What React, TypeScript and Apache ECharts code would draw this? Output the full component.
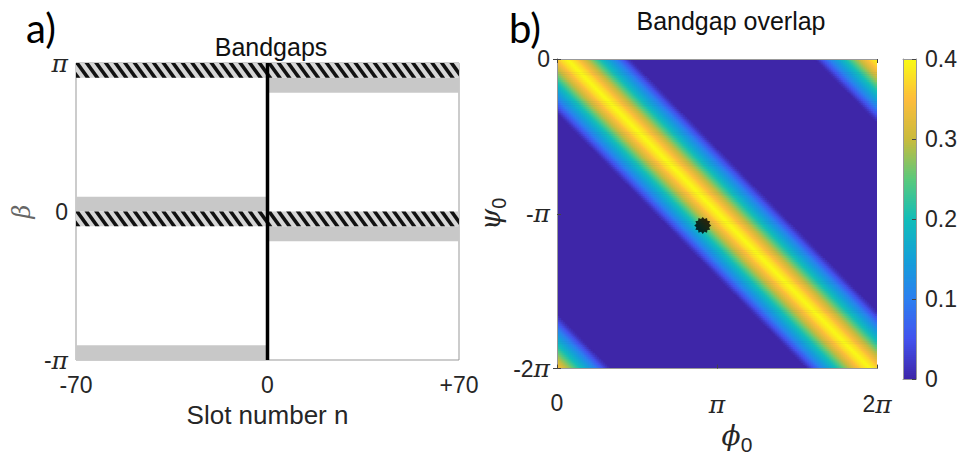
import React, { useEffect, useRef } from 'react';
import * as echarts from 'echarts';

// ---------- Panel a: bandgaps ----------
const slotRange = [-70, 70];
const betaRange = [-1, 1]; // in units of π
// [nStart, nEnd, βLow, βHigh] (β in units of π)
const grayBands = [
  [-70, 0, 0, 0.1],
  [-70, 0, -1, -0.9],
  [0, 70, 0.8, 0.9],
  [0, 70, -0.2, -0.1],
];
const hatchBands = [
  [-70, 70, 0.9, 1.0],
  [-70, 70, -0.1, 0],
];
const slotDivider = [
  [0, -1],
  [0, 1],
];

// ---------- Panel b: bandgap overlap ----------
const phiRange = [0, 2]; // units of π
const psiRange = [-2, 0]; // units of π
// overlap profile across the ridge: offset (fraction of the φ span) -> value
const ridgeOffset = [0, 0.025, 0.05, 0.075, 0.1, 0.125, 0.15, 0.175, 0.197];
const ridgeValue = [0.4, 0.37, 0.32, 0.27, 0.21, 0.16, 0.11, 0.05, 0.0];
const ridgeTop = 0.031; // ridge centre (fraction of φ span) at ψ = 0
const ridgeBottom = 0.978; // ridge centre at ψ = -2π
const ridgeShiftRight = 0.972; // top-right copy of the ridge
const ridgeShiftLeft = 1.009; // bottom-left copy of the ridge
const markerPoint = [[0.911, -1.075]];
const colorRange = [0, 0.4];

const parula = [
  '#3e26a8',
  '#4352ee',
  '#2c7ff0',
  '#14a0d8',
  '#12bdb9',
  '#5ac97c',
  '#c9bb3d',
  '#fdbc3c',
  '#f9fb15',
];

const N = 160;
const SANS = 'Liberation Sans, Arial, Helvetica, sans-serif';
const SERIF = 'DejaVu Serif, Liberation Serif, serif';
const TXT = '#262626';

function profile(d: number) {
  for (let k = 0; k < ridgeOffset.length - 1; k++) {
    if (d <= ridgeOffset[k + 1]) {
      const t = (d - ridgeOffset[k]) / (ridgeOffset[k + 1] - ridgeOffset[k]);
      return ridgeValue[k] + t * (ridgeValue[k + 1] - ridgeValue[k]);
    }
  }
  return 0;
}

const cellPhi = (phiRange[1] - phiRange[0]) / N;
const cellPsi = (psiRange[1] - psiRange[0]) / N;
const cellBar = (colorRange[1] - colorRange[0]) / N;

function buildHeat() {
  const out: number[][] = [];
  for (let i = 0; i < N; i++) {
    for (let j = 0; j < N; j++) {
      const u = (i + 0.5) / N; // fraction across φ
      const v = (j + 0.5) / N; // fraction down from ψ = 0
      const c = ridgeTop + (ridgeBottom - ridgeTop) * v;
      const d = Math.min(Math.abs(u - c), Math.abs(u - c - ridgeShiftRight), Math.abs(u - c + ridgeShiftLeft));
      const val = profile(d);
      if (val > 0) out.push([phiRange[0] + u * (phiRange[1] - phiRange[0]), psiRange[1] - v * (psiRange[1] - psiRange[0]), val]);
    }
  }
  return out;
}

function buildColorbar() {
  const out: number[][] = [];
  for (let j = 0; j < N; j++) {
    const val = colorRange[0] + (j + 0.5) * cellBar;
    out.push([0.5, val, val]);
  }
  return out;
}

function starPath(n: number, rIn: number) {
  let d = '';
  for (let k = 0; k < 2 * n; k++) {
    const r = k % 2 ? rIn : 1;
    const a = (k * Math.PI) / n - Math.PI / 2;
    d += (k ? 'L' : 'M') + (50 + 50 * r * Math.cos(a)).toFixed(2) + ' ' + (50 + 50 * r * Math.sin(a)).toFixed(2) + ' ';
  }
  return 'path://' + d + 'Z';
}

function clipHalf(pts: number[][], x0: number, keepGreater: boolean) {
  const out: number[][] = [];
  for (let i = 0; i < pts.length; i++) {
    const a = pts[i];
    const b = pts[(i + 1) % pts.length];
    const ina = keepGreater ? a[0] >= x0 : a[0] <= x0;
    const inb = keepGreater ? b[0] >= x0 : b[0] <= x0;
    if (ina) out.push(a);
    if (ina !== inb) {
      const t = (x0 - a[0]) / (b[0] - a[0]);
      out.push([x0, a[1] + t * (b[1] - a[1])]);
    }
  }
  return out;
}

const piRich = {
  n: { fontFamily: SANS, fontSize: 23, color: TXT },
  p: { fontFamily: SERIF, fontStyle: 'italic', fontSize: 25, color: TXT },
};

export default function App() {
  const ref = useRef<HTMLDivElement>(null);
  useEffect(() => {
    document.body.style.margin = '0';
    if (!ref.current) return;
    const chart = echarts.init(ref.current, undefined, { renderer: 'svg' });
    const cats = Array.from({ length: N }, (_, i) => String(i));

    const option: any = {
      animation: false,
      backgroundColor: '#fff',
      graphic: [
        { type: 'text', x: 41, y: 28, style: { text: 'a)', fontSize: 40, fontFamily: 'Lato, Noto Sans, sans-serif', fill: '#000', align: 'center', verticalAlign: 'middle' } },
        { type: 'text', x: 525, y: 28, style: { text: 'b)', fontSize: 40, fontFamily: 'Lato, Noto Sans, sans-serif', fill: '#000', align: 'center', verticalAlign: 'middle' } },
        { type: 'text', x: 271, y: 47, style: { text: 'Bandgaps', fontSize: 25, fontFamily: SANS, fill: '#111', align: 'center', verticalAlign: 'middle' } },
        { type: 'text', x: 731, y: 21, style: { text: 'Bandgap overlap', fontSize: 25, fontFamily: SANS, fill: '#111', align: 'center', verticalAlign: 'middle' } },
      ],
      grid: [
        { left: 76, top: 63, width: 383, height: 297, show: true, borderColor: '#999', borderWidth: 1, backgroundColor: 'transparent' },
        { left: 557, top: 59, width: 320, height: 320, show: true, borderWidth: 0, backgroundColor: parula[0] },
        { left: 903, top: 59, width: 15, height: 320 },
      ],
      xAxis: [
        {
          gridIndex: 0, type: 'value', min: slotRange[0], max: slotRange[1], interval: 70,
          axisLine: { show: false }, axisTick: { show: false }, splitLine: { show: false },
          axisLabel: { margin: 13, fontSize: 23, fontFamily: SANS, color: TXT, formatter: (v: number) => (v > 0 ? '+' + v : String(v)) },
          name: 'Slot number n', nameLocation: 'middle', nameGap: 42,
          nameTextStyle: { fontSize: 26, fontFamily: SANS, color: TXT },
        },
        {
          gridIndex: 1, type: 'category', data: cats, position: 'top', z: 10,
          axisLine: { show: true, lineStyle: { color: '#999' } },
          axisTick: { show: true, inside: true, length: 4, interval: (i: number) => i === N / 2, lineStyle: { color: '#444' } },
          axisLabel: { show: false }, splitLine: { show: false },
        },
        {
          gridIndex: 1, type: 'value', min: phiRange[0], max: phiRange[1], interval: 1, position: 'bottom', z: 10,
          axisLine: { show: true, lineStyle: { color: '#999' } },
          axisTick: { show: true, inside: true, length: 4, lineStyle: { color: '#444' } },
          splitLine: { show: false },
          axisLabel: {
            margin: 23, fontSize: 23, fontFamily: SANS, color: TXT, rich: piRich,
            formatter: (v: number) => (v === 0 ? '{n|0}' : v === 1 ? '{p|π}' : '{n|2}{p|π}'),
          },
          name: '{p|ϕ}{s|0}', nameLocation: 'middle', nameGap: 39,
          nameTextStyle: {
            rich: {
              p: { fontFamily: SERIF, fontStyle: 'italic', fontSize: 28, color: TXT, padding: [0, 0, 0, 40] },
              s: { fontFamily: SANS, fontSize: 21, color: TXT, padding: [18, 0, 0, 0] },
            },
          },
        },
        {
          gridIndex: 2, type: 'category', data: ['c'], position: 'bottom', z: 10,
          axisLine: { show: true, lineStyle: { color: '#999' } }, axisTick: { show: false }, axisLabel: { show: false }, splitLine: { show: false },
        },
        {
          gridIndex: 2, type: 'value', min: 0, max: 1, position: 'top', z: 10,
          axisLine: { show: true, lineStyle: { color: '#999' } }, axisTick: { show: false }, axisLabel: { show: false }, splitLine: { show: false },
        },
      ],
      yAxis: [
        {
          gridIndex: 0, type: 'value', min: betaRange[0], max: betaRange[1], interval: 1,
          axisLine: { show: false }, axisTick: { show: false }, splitLine: { show: false },
          axisLabel: {
            margin: 8, fontSize: 23, fontFamily: SANS, color: TXT, rich: piRich,
            formatter: (v: number) => (v === 1 ? '{p|π}' : v === -1 ? '{n|-}{p|π}' : '{n|0}'),
          },
          name: 'β', nameLocation: 'middle', nameGap: 42, nameRotate: 90,
          nameTextStyle: { fontFamily: SERIF, fontStyle: 'italic', fontSize: 24, color: '#666' },
        },
        {
          gridIndex: 1, type: 'category', data: cats, position: 'right', z: 10,
          axisLine: { show: true, lineStyle: { color: '#999' } },
          axisTick: { show: true, inside: true, length: 4, interval: (i: number) => i === N / 2, lineStyle: { color: '#444' } },
          axisLabel: { show: false }, splitLine: { show: false },
        },
        {
          gridIndex: 1, type: 'value', min: psiRange[0], max: psiRange[1], interval: 1, position: 'left', z: 10,
          axisLine: { show: true, lineStyle: { color: '#999' } },
          axisTick: { show: true, inside: true, length: 4, lineStyle: { color: '#444' } },
          splitLine: { show: false },
          axisLabel: {
            margin: 7, fontSize: 23, fontFamily: SANS, color: TXT, rich: piRich,
            formatter: (v: number) => (v === 0 ? '{n|0}' : v === -1 ? '{n|-}{p|π}' : '{n|-2}{p|π}'),
          },
          name: '{p|ψ}{s|0}', nameLocation: 'middle', nameGap: 46, nameRotate: 90,
          nameTextStyle: {
            rich: {
              p: { fontFamily: SERIF, fontStyle: 'italic', fontSize: 27, color: TXT },
              s: { fontFamily: SANS, fontSize: 20, color: TXT, padding: [18, 0, 0, 0] },
            },
          },
        },
        {
          gridIndex: 2, type: 'category', data: cats, position: 'left', z: 10,
          axisLine: { show: true, lineStyle: { color: '#999' } }, axisTick: { show: false }, axisLabel: { show: false }, splitLine: { show: false },
        },
        {
          gridIndex: 2, type: 'value', min: colorRange[0], max: colorRange[1], interval: 0.1, position: 'right', z: 10,
          axisLine: { show: true, lineStyle: { color: '#999' } },
          axisTick: { show: true, inside: true, length: 4, lineStyle: { color: '#444' } },
          splitLine: { show: false },
          axisLabel: { margin: 9, fontSize: 23, fontFamily: SANS, color: TXT, formatter: (v: number) => (v === 0 ? '0' : v.toFixed(1)) },
        },
      ],
      visualMap: {
        type: 'continuous', show: false, min: colorRange[0], max: colorRange[1], dimension: 2, seriesIndex: [3, 4],
        inRange: { color: parula },
      },
      series: [
        {
          type: 'custom', xAxisIndex: 0, yAxisIndex: 0, data: grayBands, encode: { x: [0, 1], y: [2, 3] }, z: 2,
          renderItem: (_p: any, api: any) => {
            const p0 = api.coord([api.value(0), api.value(3)]);
            const p1 = api.coord([api.value(1), api.value(2)]);
            return { type: 'rect', shape: { x: p0[0], y: p0[1], width: p1[0] - p0[0], height: p1[1] - p0[1] }, style: { fill: '#c8c8c8' } };
          },
        },
        {
          type: 'custom', xAxisIndex: 0, yAxisIndex: 0, data: hatchBands, encode: { x: [0, 1], y: [2, 3] }, z: 3,
          renderItem: (_p: any, api: any) => {
            const p0 = api.coord([api.value(0), api.value(3)]);
            const p1 = api.coord([api.value(1), api.value(2)]);
            const L = p0[0], T = p0[1], R = p1[0], B = p1[1];
            const h = B - T;
            const period = 9.6, w = 4.4, s = h * 0.72;
            const children: any[] = [{ type: 'rect', shape: { x: L, y: T, width: R - L, height: h }, style: { fill: '#d6d6d6' } }];
            for (let x = L - s - period; x < R; x += period) {
              let poly = [[x, T], [x + w, T], [x + w + s, B], [x + s, B]];
              poly = clipHalf(poly, L, true);
              if (poly.length >= 3) poly = clipHalf(poly, R, false);
              if (poly.length >= 3) children.push({ type: 'polygon', shape: { points: poly }, style: { fill: '#111' } });
            }
            return { type: 'group', children };
          },
        },
        {
          type: 'line', xAxisIndex: 0, yAxisIndex: 0, data: slotDivider, symbol: 'none', z: 5,
          lineStyle: { color: '#000', width: 3.5 },
        },
        {
          type: 'custom', xAxisIndex: 2, yAxisIndex: 2, data: buildHeat(), encode: { x: 0, y: 1 }, z: 2, clip: true,
          progressive: 0,
          renderItem: (_p: any, api: any) => {
            const c = api.coord([api.value(0), api.value(1)]);
            const sz = api.size([cellPhi, cellPsi]);
            return {
              type: 'rect',
              shape: { x: c[0] - sz[0] / 2 - 0.3, y: c[1] - sz[1] / 2 - 0.3, width: sz[0] + 0.6, height: sz[1] + 0.6 },
              style: { fill: api.visual('color') },
            };
          },
        },
        {
          type: 'custom', xAxisIndex: 4, yAxisIndex: 4, data: buildColorbar(), encode: { x: 0, y: 1 }, z: 2, clip: true,
          progressive: 0,
          renderItem: (_p: any, api: any) => {
            const c = api.coord([api.value(0), api.value(1)]);
            const sz = api.size([1, cellBar]);
            return {
              type: 'rect',
              shape: { x: c[0] - sz[0] / 2, y: c[1] - sz[1] / 2 - 0.3, width: sz[0], height: sz[1] + 0.6 },
              style: { fill: api.visual('color') },
            };
          },
        },
        {
          type: 'scatter', xAxisIndex: 2, yAxisIndex: 2, data: markerPoint, symbol: starPath(12, 0.78), symbolSize: 17, z: 20,
          itemStyle: { color: '#000' },
        },
      ],
    };
    chart.setOption(option);
    return () => chart.dispose();
  }, []);
  return <div ref={ref} style={{ width: 960, height: 460 }} />;
}
